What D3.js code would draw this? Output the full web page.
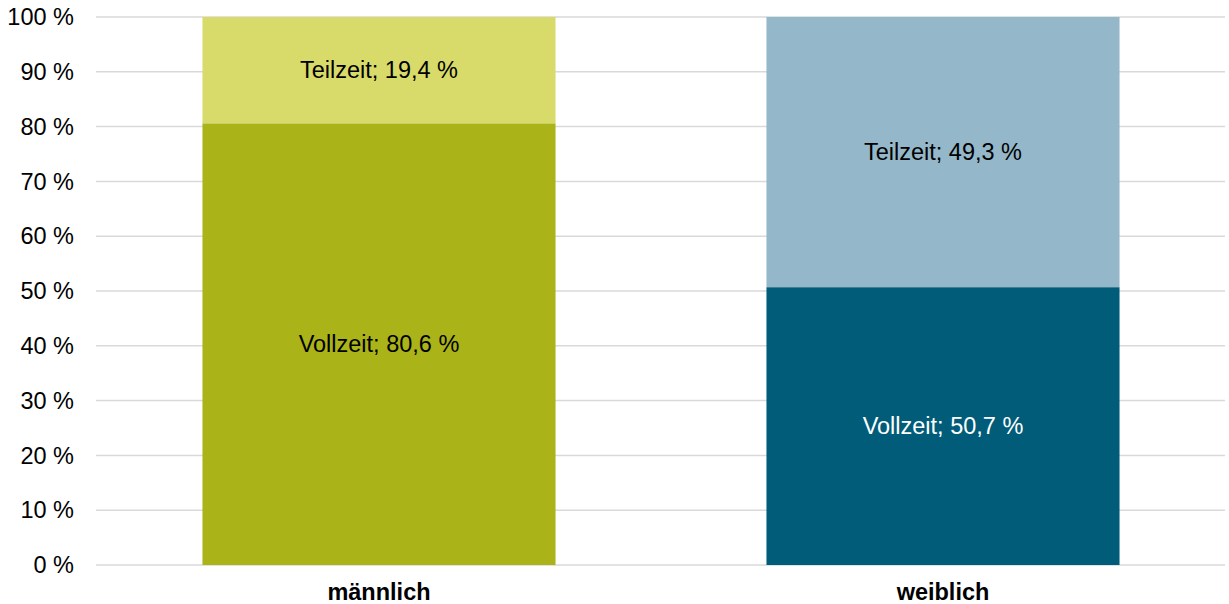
<!DOCTYPE html>
<html>
<head>
<meta charset="utf-8">
<script src="https://cdn.jsdelivr.net/npm/d3@7"></script>
<style>
  body { margin: 0; background: #fff; }
  text { font-family: "Liberation Sans", Arial, sans-serif; }
</style>
</head>
<body>
<script>
// data
var categories = ["männlich", "weiblich"];
var vollzeit = [80.6, 50.7];
var teilzeit = [19.4, 49.3];
var seriesNames = ["Vollzeit", "Teilzeit"];
var yTicks = [0, 10, 20, 30, 40, 50, 60, 70, 80, 90, 100];

var colors = {
  "männlich": ["#aab318", "#d8db6a"],
  "weiblich": ["#005c78", "#94b8ca"]
};
var labelColors = {
  "männlich": ["#000", "#000"],
  "weiblich": ["#fff", "#000"]
};

var width = 1229, height = 604;
var margin = { top: 17, right: 4, bottom: 39, left: 97 };
var fontSize = 23.5;

var svg = d3.select("body").append("svg")
  .attr("width", width)
  .attr("height", height);

var x = d3.scaleBand()
  .domain(categories)
  .range([margin.left, width - margin.right])
  .paddingInner(0.374)
  .paddingOuter(0.187);

var y = d3.scaleLinear()
  .domain([0, 100])
  .range([height - margin.bottom, margin.top]);

// gridlines
svg.append("g")
  .selectAll("line")
  .data(yTicks)
  .enter()
  .append("line")
  .attr("x1", margin.left - 1)
  .attr("x2", width - margin.right)
  .attr("y1", function (d) { return y(d); })
  .attr("y2", function (d) { return y(d); })
  .attr("stroke", "#d9d9d9")
  .attr("stroke-width", 1.5);

// y tick labels
svg.append("g")
  .selectAll("text")
  .data(yTicks)
  .enter()
  .append("text")
  .attr("x", 74)
  .attr("y", function (d) { return y(d); })
  .attr("dy", "0.35em")
  .attr("text-anchor", "end")
  .attr("font-size", fontSize)
  .attr("fill", "#000")
  .text(function (d) { return d + " %"; });

// stacked segments
var rows = categories.map(function (c, i) {
  return { cat: c, Vollzeit: vollzeit[i], Teilzeit: teilzeit[i] };
});
var stack = d3.stack().keys(seriesNames)(rows);

var segs = [];
stack.forEach(function (layer, k) {
  layer.forEach(function (d) {
    segs.push({ cat: d.data.cat, key: layer.key, k: k, y0: d[0], y1: d[1], v: d[1] - d[0] });
  });
});

svg.append("g")
  .selectAll("rect")
  .data(segs)
  .enter()
  .append("rect")
  .attr("x", function (d) { return x(d.cat); })
  .attr("width", x.bandwidth())
  .attr("y", function (d) { return y(d.y1); })
  .attr("height", function (d) { return y(d.y0) - y(d.y1); })
  .attr("fill", function (d) { return colors[d.cat][d.k]; });

// segment labels
svg.append("g")
  .selectAll("text")
  .data(segs)
  .enter()
  .append("text")
  .attr("x", function (d) { return x(d.cat) + x.bandwidth() / 2; })
  .attr("y", function (d) { return y((d.y0 + d.y1) / 2); })
  .attr("dy", "0.35em")
  .attr("text-anchor", "middle")
  .attr("font-size", fontSize)
  .attr("fill", function (d) { return labelColors[d.cat][d.k]; })
  .text(function (d) { return d.key + "; " + d.v.toFixed(1).replace(".", ",") + " %"; });

// category labels
svg.append("g")
  .selectAll("text")
  .data(categories)
  .enter()
  .append("text")
  .attr("x", function (d) { return x(d) + x.bandwidth() / 2; })
  .attr("y", 592)
  .attr("dy", "0.35em")
  .attr("text-anchor", "middle")
  .attr("font-size", fontSize)
  .attr("font-weight", "bold")
  .attr("fill", "#000")
  .text(function (d) { return d; });
</script>
</body>
</html>
